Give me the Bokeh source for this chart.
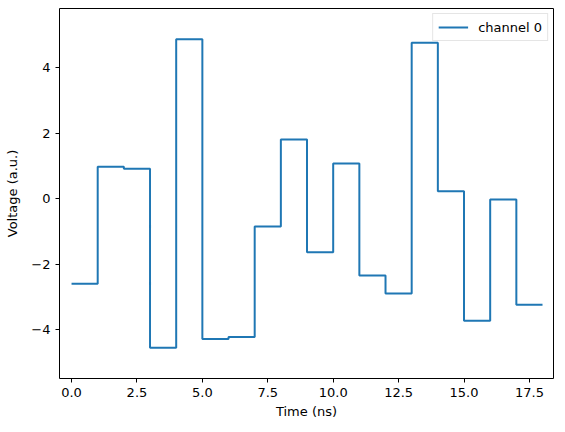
from bokeh.plotting import figure
from bokeh.models import FixedTicker, CustomJSTickFormatter, Range1d
from bokeh.embed import file_html
from bokeh.resources import INLINE

time_edges = list(range(19))
voltage = [-2.60, 0.98, 0.92, -4.56, 4.88, -4.29, -4.23, -0.85, 1.81,
           -1.64, 1.08, -2.35, -2.90, 4.77, 0.23, -3.73, -0.02, -3.24]
x_ticks = [0, 2.5, 5, 7.5, 10, 12.5, 15, 17.5]
y_ticks = [-4, -2, 0, 2, 4]

ys = voltage + [voltage[-1]]

p = figure(frame_width=494, frame_height=370, output_backend="svg",
           toolbar_location=None, x_range=Range1d(-0.46, 18.42),
           y_range=Range1d(-5.5, 5.82), min_border_left=59,
           min_border_right=3, min_border_top=8, min_border_bottom=45)
p.background_fill_color = "white"
p.border_fill_color = "white"
p.outline_line_color = "black"
p.outline_line_width = 1
p.xgrid.visible = False
p.ygrid.visible = False

p.step(time_edges, ys, mode="after", line_color="#1f77b4", line_width=2,
       legend_label="channel 0")

for ax in (p.xaxis, p.yaxis):
    ax.axis_line_color = None
    ax.major_tick_line_color = "black"
    ax.major_tick_out = 4
    ax.major_tick_in = 0
    ax.minor_tick_line_color = None
    ax.major_label_text_font = "DejaVu Sans"
    ax.major_label_text_font_size = "13px"
    ax.major_label_text_color = "black"
    ax.axis_label_text_font = "DejaVu Sans"
    ax.axis_label_text_font_size = "13px"
    ax.axis_label_text_font_style = "normal"
    ax.axis_label_text_color = "black"

p.xaxis.ticker = FixedTicker(ticks=x_ticks)
p.yaxis.ticker = FixedTicker(ticks=y_ticks)
p.xaxis.formatter = CustomJSTickFormatter(code="return tick.toFixed(1);")
p.yaxis.formatter = CustomJSTickFormatter(
    code="return (tick < 0 ? '\u2212' : '') + Math.abs(tick).toFixed(0);")
p.xaxis.axis_label = "Time (ns)"
p.yaxis.axis_label = "Voltage (a.u.)"
p.xaxis.major_label_standoff = 5
p.yaxis.major_label_standoff = 5
p.xaxis.axis_label_standoff = 4
p.yaxis.axis_label_standoff = 8

lg = p.legend[0]
lg.location = "top_right"
lg.border_line_color = "#cccccc"
lg.border_line_width = 1
lg.background_fill_alpha = 0.8
lg.label_text_font = "DejaVu Sans"
lg.label_text_font_size = "13px"
lg.label_text_color = "black"
lg.glyph_width = 30
lg.glyph_height = 16
lg.padding = 5
lg.margin = 5
lg.spacing = 0
lg.label_standoff = 10

open("out.html", "w").write(file_html(p, INLINE))
